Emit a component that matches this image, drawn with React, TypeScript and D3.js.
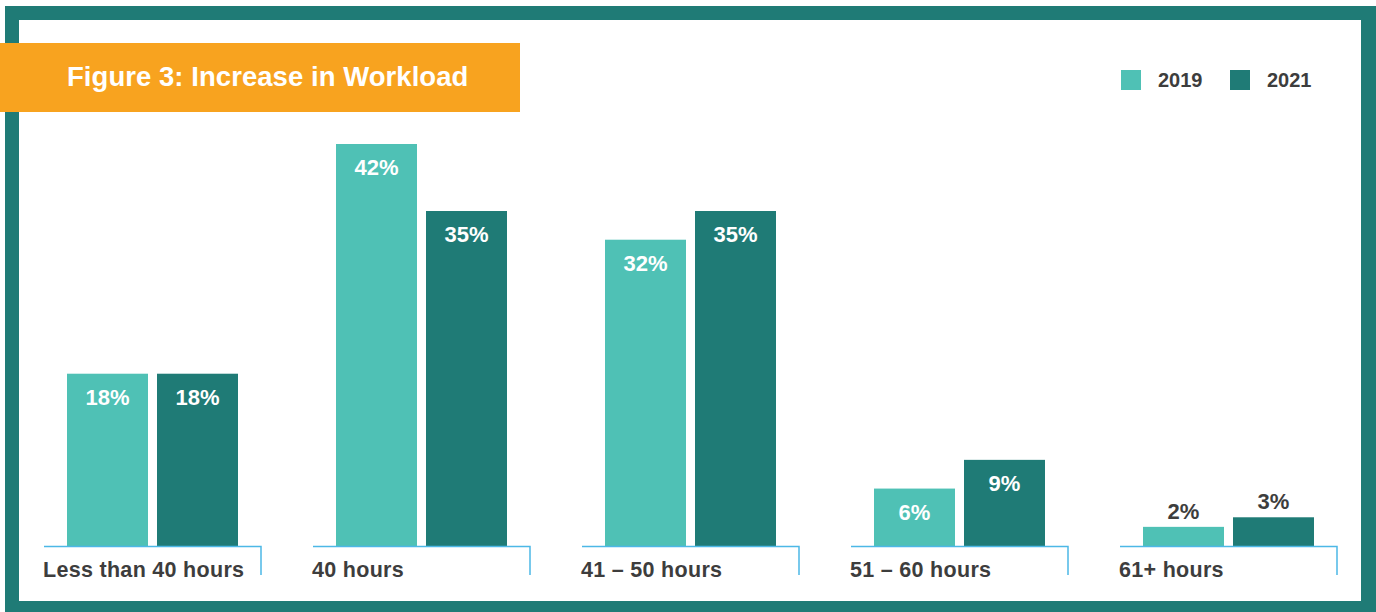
import React from "react";
import * as d3 from "d3";

const categories = ["Less than 40 hours", "40 hours", "41 – 50 hours", "51 – 60 hours", "61+ hours"];
const seriesNames = ["2019", "2021"];
const values2019 = [18, 42, 32, 6, 2];
const values2021 = [18, 35, 35, 9, 3];
const title = "Figure 3: Increase in Workload";

const COLORS = ["#4fc1b5", "#1f7b76"];
const FRAME = "#1f7b76";
const ORANGE = "#f8a31f";
const AXIS = "#4cb8e6";
const TEXT = "#3d3d3d";
const FONT = "'Liberation Sans', Arial, Helvetica, sans-serif";

export default function App() {
  const W = 1376, H = 612;
  const baseline = 546;
  const y = d3.scaleLinear().domain([0, 42]).range([baseline, 144]);
  const x = d3.scaleBand<string>().domain(categories).range([44, 44 + 269 * 4 + 217]).paddingInner(52 / 269).paddingOuter(0);
  const groupW = x.bandwidth();
  const xs = d3.scaleBand<string>().domain(seriesNames).range([23, 23 + 171]).paddingInner(9 / 90).paddingOuter(0);
  const series = [values2019, values2021];

  return (
    <svg width={W} height={H} style={{ position: "absolute", left: 0, top: 0, display: "block" }} fontFamily={FONT}>
      <rect x={0} y={0} width={W} height={H} fill="#ffffff" />
      <rect x={5} y={6} width={W - 5} height={H - 6} fill={FRAME} />
      <rect x={19} y={20} width={1361 - 19} height={601 - 20} fill="#ffffff" />
      <rect x={0} y={43} width={520} height={69} fill={ORANGE} />
      <text x={67} y={86} fill="#ffffff" fontSize={27.5} fontWeight={700} letterSpacing={0.05}>{title}</text>
      {seriesNames.map((s, i) => {
        const lx = i === 0 ? 1121 : 1230;
        return (
          <g key={s}>
            <rect x={lx} y={70} width={20} height={20} fill={COLORS[i]} />
            <text x={lx + 37} y={87} fill={TEXT} fontSize={20} fontWeight={700}>{s}</text>
          </g>
        );
      })}
      {categories.map((c, ci) => {
        const gx = x(c)!;
        return (
          <g key={c} transform={`translate(${gx},0)`}>
            {seriesNames.map((s, si) => {
              const v = series[si][ci];
              const bx = xs(s)!;
              const bw = xs.bandwidth();
              const top = y(v);
              const inside = baseline - top > 40;
              return (
                <g key={s}>
                  <rect x={bx} y={top} width={bw} height={baseline - top} fill={COLORS[si]} />
                  <text
                    x={bx + bw / 2}
                    y={inside ? top + 31 : top - 8}
                    textAnchor="middle"
                    fill={inside ? "#ffffff" : TEXT}
                    fontSize={22}
                    fontWeight={700}
                  >{v}%</text>
                </g>
              );
            })}
            <path d={`M0,${baseline + 0.5} H${groupW} V575`} fill="none" stroke={AXIS} strokeWidth={1.5} />
            <text x={-1} y={577} fill={TEXT} fontSize={21.5} fontWeight={700} letterSpacing={0.3}>{c}</text>
          </g>
        );
      })}
    </svg>
  );
}
